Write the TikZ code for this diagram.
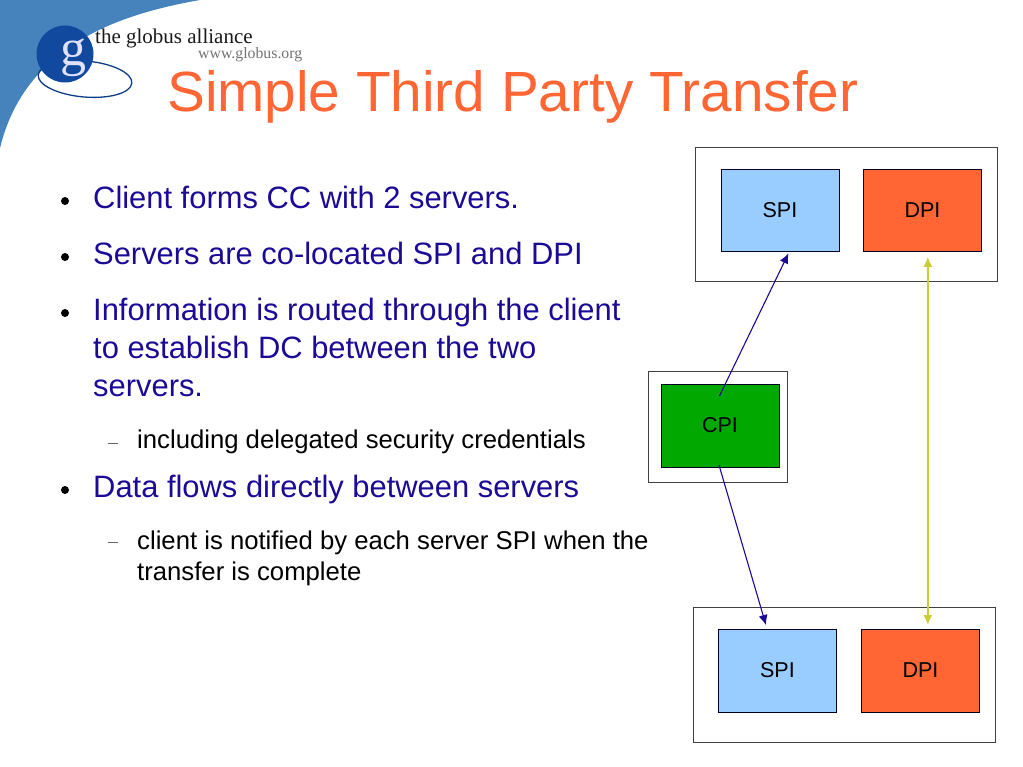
\documentclass[tikz,border=0pt]{standalone}
\usepackage{fontspec}
\setmainfont{Liberation Sans}
\newfontfamily\logofont{Liberation Serif}
\usetikzlibrary{calc,arrows.meta}
\definecolor{navytext}{HTML}{1A0A96}
\definecolor{titleorange}{HTML}{FF6633}
\definecolor{spiblue}{HTML}{99CCFF}
\definecolor{cpigreen}{HTML}{00A800}
\definecolor{arrowyellow}{HTML}{CCCC33}
\definecolor{swoosh}{HTML}{4682BC}
\definecolor{globe}{HTML}{10499E}
\tikzset{
  x=1pt,y=-1pt,
  outerbox/.style={draw=black!75,line width=0.9pt,fill=white,rectangle,inner sep=0pt,minimum width=#1},
  procbox/.style={draw=black!85!blue,line width=0.9pt,rectangle,inner sep=0pt,minimum width=118pt,minimum height=82.5pt,text height=15.4pt,text depth=2pt,font=\fontsize{21.5}{21.5}\selectfont},
  ctrl/.style={draw=navytext,line width=1.1pt,-{Latex[length=10pt,width=9pt]}},
  datal/.style={draw=arrowyellow,line width=1.5pt,{Latex[length=10pt,width=9pt]}-{Latex[length=10pt,width=9pt]}},
  bullettext/.style={anchor=west,text=navytext,font=\fontsize{30.9}{38}\selectfont,align=left,inner sep=0pt},
  subtext/.style={anchor=west,text=black,font=\fontsize{25.7}{31}\selectfont,align=left,inner sep=0pt},
  bulletdot/.style={circle,fill=black,inner sep=0pt,minimum size=8pt},
  dashmark/.style={draw=black!60,line width=0.7pt},
}
\begin{document}
\begin{tikzpicture}
\useasboundingbox (0,0) rectangle (1023,767);
% logo
\fill[swoosh] (0,0) -- (200,0) .. controls (120,14) and (25,45) .. (0,148) -- cycle;
\draw[globe!85!black,line width=1.3pt,rotate around={-5:(85,79)}] (85,79) ellipse [x radius=47,y radius=18];
\fill[globe] (65,54) circle [radius=28.5];
\node[text=white!88!blue,font=\logofont\fontsize{52}{52}\selectfont,inner sep=0pt] (logog) at (73,58) {g};
\node[anchor=west,inner sep=0pt,text depth=0pt,font=\logofont\fontsize{21}{20}\selectfont,text=black!90] (logoa) at (95,36) {the globus alliance};
\node[anchor=west,inner sep=0pt,font=\logofont\fontsize{15.8}{15}\selectfont,text=black!55] (logow) at (198,55) {www.globus.org};
% title
\node[anchor=west,inner sep=0pt,text=titleorange,font=\fontsize{56.7}{56}\selectfont] (title) at (167,97) {Simple Third Party Transfer};
% bullets
\node[bulletdot] (b1) at (65,201) {};
\node[bullettext] (t1) at (93,197) {Client forms CC with 2 servers.};
\node[bulletdot] (b2) at (65,257) {};
\node[bullettext] (t2) at (93,253) {Servers are co-located SPI and DPI};
\node[bulletdot] (b3) at (65,313) {};
\node[bullettext,anchor=north west] (t3) at (93,297.5) {Information is routed through the client\\to establish DC between the two\\servers.};
\draw[dashmark] (108,443) -- (118,443);
\node[subtext] (s1) at (137,442) {including delegated security credentials};
\node[bulletdot] (b4) at (65,490) {};
\node[bullettext] (t4) at (93,490) {Data flows directly between servers};
\draw[dashmark] (108,542) -- (118,542);
\node[subtext,anchor=north west] (s2) at (137,530.5) {client is notified by each server SPI when the\\transfer is complete};
% diagram
\node[outerbox=301.5pt,minimum height=134.5pt,anchor=north west] (top) at (695,147) {};
\node[procbox,fill=spiblue,anchor=north west] (spia) at (720.5,169) {SPI};
\node[procbox,fill=titleorange,anchor=north west] (dpia) at (863,169) {DPI};
\node[outerbox=139.5pt,minimum height=111.5pt,anchor=north west] (cpo) at (647.5,370.5) {};
\node[procbox,fill=cpigreen,anchor=north west] (cpi) at (660.5,384) {CPI};
\node[outerbox=301.5pt,minimum height=134.5pt,anchor=north west] (bot) at (693,607) {};
\node[procbox,fill=spiblue,anchor=north west] (spib) at (718,629) {SPI};
\node[procbox,fill=titleorange,anchor=north west] (dpib) at (861,629) {DPI};
\draw[ctrl] ($(cpi.north)+(-0.5,12)$) -- ($(spia.south)+(8.5,1)$);
\draw[ctrl] ($(cpi.south)+(-1,-2.5)$) -- ($(spib.north)+(-11.5,-4)$);
\draw[datal] ($(dpia.south)+(5.4,4.5)$) -- ($(dpib.north)+(7.4,-4)$);
\end{tikzpicture}
\end{document}
